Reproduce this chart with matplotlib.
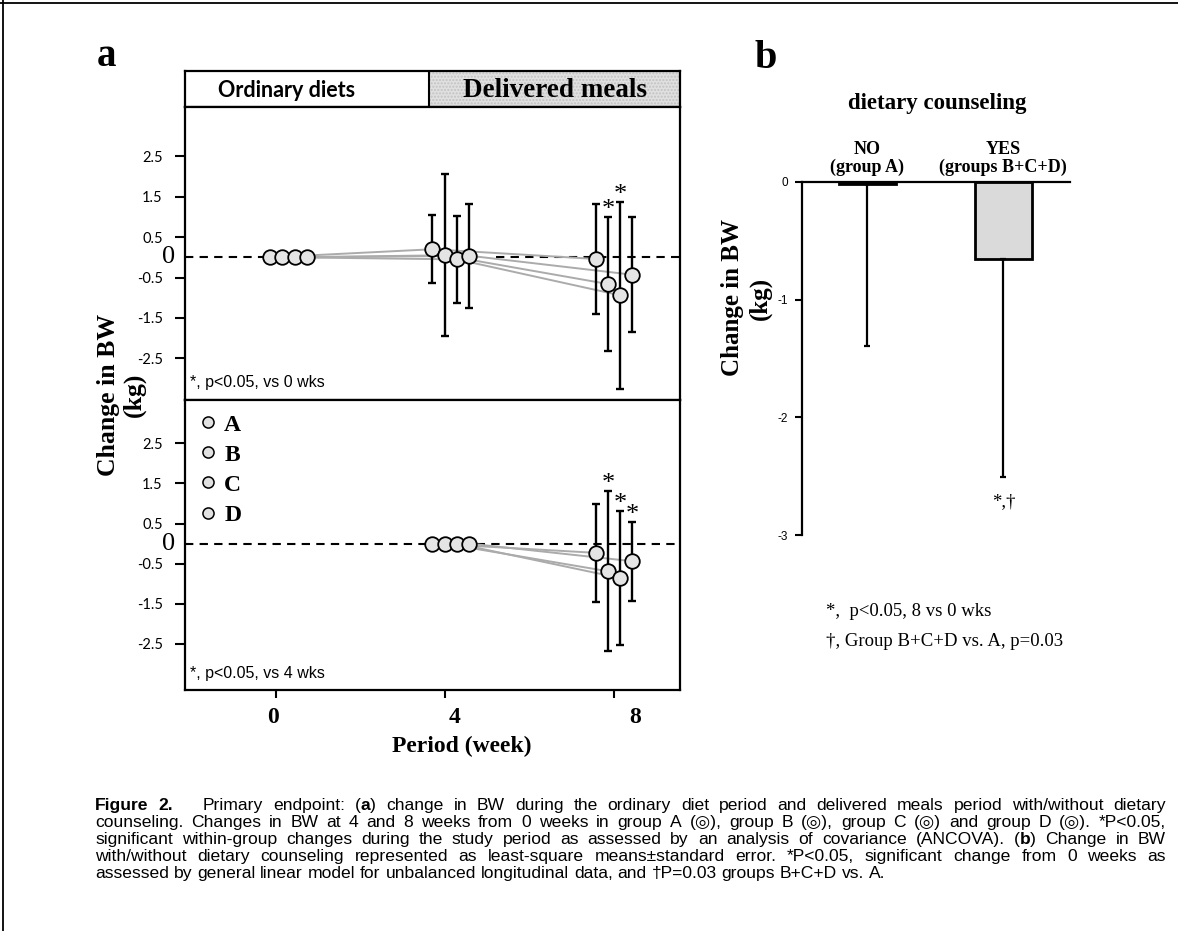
import numpy as np
import matplotlib
matplotlib.use('Agg')
import matplotlib.pyplot as plt
from matplotlib.lines import Line2D
from matplotlib.patches import Rectangle
from matplotlib.transforms import ScaledTranslation, blended_transform_factory

# ------------------------------------------------------------------ data
groups = ['A', 'B', 'C', 'D']
weeks = [0, 4, 8]
week_labels = ['0', '4', '8']

# panel a (top): change in BW from 0 wks, mean and error bar half-length
top_w0_mean = [0.0, 0.0, 0.0, 0.0]
top_w4_mean = [0.20, 0.05, -0.05, 0.04]
top_w4_err = [0.84, 2.00, 1.08, 1.29]
top_w8_mean = [-0.04, -0.66, -0.94, -0.43]
top_w8_err = [1.37, 1.65, 2.32, 1.42]
top_w8_sig = [False, True, True, False]

# panel a (bottom): change in BW from 4 wks
bot_w4_mean = [0.0, 0.0, 0.0, 0.0]
bot_w8_mean = [-0.23, -0.69, -0.86, -0.44]
bot_w8_err = [1.22, 2.00, 1.68, 0.98]
bot_w8_sig = [False, True, True, True]

top_yticks = [2.5, 1.5, 0.5, -0.5, -1.5, -2.5]

# panel b: least-square means with lower standard error
b_categories = ['NO\n(group A)', 'YES\n(groups B+C+D)']
b_means = [-0.02, -0.656]
b_err = [1.375, 1.85]
b_yticks = [0, -1, -2, -3]

caption_lines = [
    "**Figure 2.**   Primary endpoint: (**a**) change in BW during the ordinary diet period and delivered meals period with/without dietary",
    "counseling. Changes in BW at 4 and 8 weeks from 0 weeks in group A (\u25CE), group B (\u25CE), group C (\u25CE) and group D (\u25CE). *P<0.05,",
    "significant within-group changes during the study period as assessed by an analysis of covariance (ANCOVA). (**b**) Change in BW",
    "with/without dietary counseling represented as least-square means\u00B1standard error. *P<0.05, significant change from 0 weeks as",
    "assessed by general linear model for unbalanced longitudinal data, and \u2020P=0.03 groups B+C+D vs. A.",
]

# ------------------------------------------------------------------ style
W, H = 1178, 931
SERIF = ['Liberation Serif', 'DejaVu Serif']
SANS = ['Liberation Sans', 'DejaVu Sans']
CAL = ['Lato', 'DejaVu Sans']
CAP = ['Liberation Sans', 'DejaVu Sans']

fig = plt.figure(figsize=(W / 100, H / 100), dpi=100)
fig.patch.set_facecolor('white')


def fx(x):
    return x / W


def fy(y):
    return 1 - y / H


def add_ax(l, t, r, b):
    return fig.add_axes([l / W, 1 - b / H, (r - l) / W, (b - t) / H])


# page frame (top and left)
fig.add_artist(Line2D([0, 1], [fy(2.5), fy(2.5)], transform=fig.transFigure, color='k', lw=1.3))
fig.add_artist(Line2D([fx(2.5), fx(2.5)], [0, 1], transform=fig.transFigure, color='k', lw=1.3))

# ------------------------------------------------------------------ panel a
week_center = [0.3, 0.14, 0.0]
dodge = np.array([-1.5, -0.5, 0.5, 1.5]) * 0.29
x_lim = (-2.15, 9.56)

ax_h = add_ax(185, 71, 680, 107)
ax_top = add_ax(185, 107, 680, 400)
ax_bot = add_ax(185, 400, 680, 690)

# header
div = 0.493
ax_h.set_xlim(0, 1)
ax_h.set_ylim(0, 1)
ax_h.add_patch(Rectangle((div, 0), 1 - div, 1, facecolor='#e0e0e0', edgecolor='#c2c2c2',
                         hatch='.....', lw=0))
ax_h.axvline(div, color='k', lw=1.5)
ax_h.set_xticks([])
ax_h.set_yticks([])
for s in ax_h.spines.values():
    s.set_linewidth(1.6)
ax_h.text(0.205, 0.47, 'Ordinary diets', ha='center', va='center', fontsize=15.5,
          fontweight='bold', family=CAL)
ax_h.text((1 + div) / 2, 0.47, 'Delivered meals', ha='center', va='center', fontsize=19.5,
          fontweight='bold', family=SERIF)


def draw_panel(ax, week_idx, means, errs, sigs):
    xs = [weeks[i] + week_center[i] + dodge for i in week_idx]
    for g in range(len(groups)):
        ax.plot([x[g] for x in xs], [m[g] for m in means], color='#ababab', lw=1.4, zorder=2)
    for x, m, e in zip(xs, means, errs):
        if e is not None:
            ax.errorbar(x, m, yerr=e, fmt='none', ecolor='k', elinewidth=1.7, capsize=3,
                        capthick=1.7, zorder=3)
        ax.plot(x, m, 'o', ms=10.5, mfc='#e4e4e4', mec='k', mew=1.3, ls='none', zorder=4)
    x8, m8, e8 = xs[-1], means[-1], errs[-1]
    for g in range(len(groups)):
        if sigs[g]:
            ax.annotate('*', (x8[g], m8[g] + e8[g]), xytext=(0, -3), textcoords='offset points',
                        ha='center', va='bottom', fontsize=19, family=SERIF)


for ax in (ax_top, ax_bot):
    ax.set_xlim(*x_lim)
    ax.set_yticks(top_yticks)
    ax.set_yticklabels([f'{v:g}' for v in top_yticks], family=CAL, fontsize=10.5)
    ax.tick_params(axis='y', direction='out', length=7, width=1.5, pad=9)
    for s in ax.spines.values():
        s.set_linewidth(1.6)
    ax.text(-0.034, 0, '0', transform=blended_transform_factory(ax.transAxes, ax.transData),
            ha='center', va='center', fontsize=19, family=SERIF)

ax_top.set_ylim(-3.53, 3.72)
ax_bot.set_ylim(-3.65, 3.58)
ax_top.set_xticks([])

# dashed zero lines
ax_top.hlines(0, x_lim[0], weeks[0] + week_center[0] + dodge[0], colors='k', linestyles=(0, (4, 3)),
              lw=1.5, zorder=1)
ax_top.hlines(0, 5.2, x_lim[1], colors='k', linestyles=(0, (4, 3)), lw=1.5, zorder=1)
ax_bot.axhline(0, color='k', ls=(0, (4, 3)), lw=1.5, zorder=1)

draw_panel(ax_top, [0, 1, 2], [top_w0_mean, top_w4_mean, top_w8_mean],
           [None, top_w4_err, top_w8_err], top_w8_sig)
draw_panel(ax_bot, [1, 2], [bot_w4_mean, bot_w8_mean], [None, bot_w8_err], bot_w8_sig)

ax_top.text(0.01, 0.035, '*, p<0.05, vs 0 wks', transform=ax_top.transAxes, ha='left',
            va='bottom', fontsize=11.5, family=SANS)
ax_bot.text(0.01, 0.03, '*, p<0.05, vs 4 wks', transform=ax_bot.transAxes, ha='left',
            va='bottom', fontsize=11.5, family=SANS)

ax_bot.set_xticks(weeks)
ax_bot.set_xticklabels(week_labels, fontsize=17, fontweight='bold', family=SERIF)
ax_bot.tick_params(axis='x', direction='out', length=6, width=1.5, pad=6)
for lab, dx in zip(ax_bot.get_xticklabels(), [-3, 10, 21]):
    lab.set_transform(lab.get_transform() + ScaledTranslation(dx / 100, 0, fig.dpi_scale_trans))

handles = [Line2D([], [], marker='o', ls='none', ms=8, mfc='#e2e2e2', mec='k', mew=1.1)
           for _ in groups]
leg = ax_bot.legend(handles, groups, loc='upper left', bbox_to_anchor=(-0.002, 1.0),
                    frameon=False, handlelength=0.8, handletextpad=0.3, labelspacing=0.36,
                    borderaxespad=0.2, prop={'family': SERIF, 'weight': 'bold', 'size': 17})

fig.text(fx(462), fy(746), 'Period (week)', ha='center', va='center', fontsize=17,
         fontweight='bold', family=SERIF)
fig.text(fx(108), fy(395), 'Change in BW', ha='center', va='center', rotation=90,
         fontsize=18.5, fontweight='bold', family=SERIF)
fig.text(fx(134), fy(395), '(kg)', ha='center', va='center', rotation=90,
         fontsize=18.5, fontweight='bold', family=SERIF)
fig.text(fx(107), fy(57), 'a', ha='center', va='center', fontsize=28, fontweight='bold',
         family=SERIF)

# ------------------------------------------------------------------ panel b
ax_b = add_ax(802, 182, 1070, 535)
xb = np.arange(len(b_categories))
ax_b.bar(xb, b_means, width=0.42, color=['#8c8c8c', '#dadada'], edgecolor='none', hatch='....',
         lw=0, zorder=2, clip_on=False)
ax_b.bar(xb, b_means, width=0.42, fill=False, edgecolor='k', lw=2, zorder=3, clip_on=False)
ax_b.errorbar(xb, b_means, yerr=[b_err, [0] * len(b_err)], fmt='none', ecolor='k',
              elinewidth=1.6, capsize=2.5, capthick=1.6, zorder=3, clip_on=False)
ax_b.set_xlim(-0.48, 1.49)
ax_b.set_ylim(-3, 0)
ax_b.spines['right'].set_visible(False)
ax_b.spines['bottom'].set_visible(False)
ax_b.spines['left'].set_linewidth(1.6)
ax_b.spines['top'].set_linewidth(1.6)
ax_b.set_yticks(b_yticks)
ax_b.set_yticklabels([str(v) for v in b_yticks], family=SANS, fontsize=8.5)
ax_b.tick_params(axis='y', direction='out', length=5, width=1.5, pad=5)
ax_b.xaxis.tick_top()
ax_b.set_xticks(xb)
ax_b.set_xticklabels(b_categories, family=SERIF, fontweight='bold', fontsize=13, linespacing=1.05)
ax_b.tick_params(axis='x', length=0, pad=4)
ax_b.annotate('*,\u2020', (xb[1], b_means[1] - b_err[1]), xytext=(0, -12),
              textcoords='offset points', ha='center', va='top', fontsize=13.5, family=SERIF)

fig.text(fx(937), fy(103), 'dietary counseling', ha='center', va='center', fontsize=16.5,
         fontweight='bold', family=SERIF)
fig.text(fx(733), fy(298), 'Change in BW', ha='center', va='center', rotation=90,
         fontsize=18, fontweight='bold', family=SERIF)
fig.text(fx(760), fy(298), '(kg)', ha='center', va='center', rotation=90,
         fontsize=18, fontweight='bold', family=SERIF)
fig.text(fx(766), fy(58), 'b', ha='center', va='center', fontsize=29, fontweight='bold',
         family=SERIF)
fig.text(fx(826), fy(611), '*,  p<0.05, 8 vs 0 wks', ha='left', va='center', fontsize=13.5,
         family=SERIF)
fig.text(fx(826), fy(641), '\u2020, Group B+C+D vs. A, p=0.03', ha='left', va='center',
         fontsize=13.5, family=SERIF)

# ------------------------------------------------------------------ caption (justified)
renderer = fig.canvas.get_renderer()
cap_size = 12.6


def text_w(s, bold):
    if not s:
        return 0.0
    t = fig.text(0, 0, s, fontsize=cap_size, fontweight='bold' if bold else 'normal', family=CAP)
    w = t.get_window_extent(renderer).width
    t.remove()
    return w


def parse(line):
    words = []
    bold = False
    for raw in line.split(' '):
        segs = []
        parts = raw.split('**')
        for k, p in enumerate(parts):
            if k > 0:
                bold = not bold
            if p:
                segs.append((p, bold))
        words.append(segs)
    return words


space_w = text_w('x x', False) - text_w('xx', False)
x0, x1 = 95, 1166
y_base = 810
dy = 17
for i, line in enumerate(caption_lines):
    words = parse(line)
    widths = [sum(text_w(s, b) for s, b in wd) for wd in words]
    n = len(words)
    if i == len(caption_lines) - 1 or n < 2:
        gap = space_w
    else:
        gap = (x1 - x0 - sum(widths)) / (n - 1)
    x = x0
    y = y_base + i * dy
    for wd, ww in zip(words, widths):
        xx = x
        for s, b in wd:
            fig.text(fx(xx), fy(y), s, ha='left', va='baseline', fontsize=cap_size,
                     fontweight='bold' if b else 'normal', family=CAP)
            xx += text_w(s, b)
        x += ww + gap

fig.savefig('out.png', dpi=100, facecolor='white')
